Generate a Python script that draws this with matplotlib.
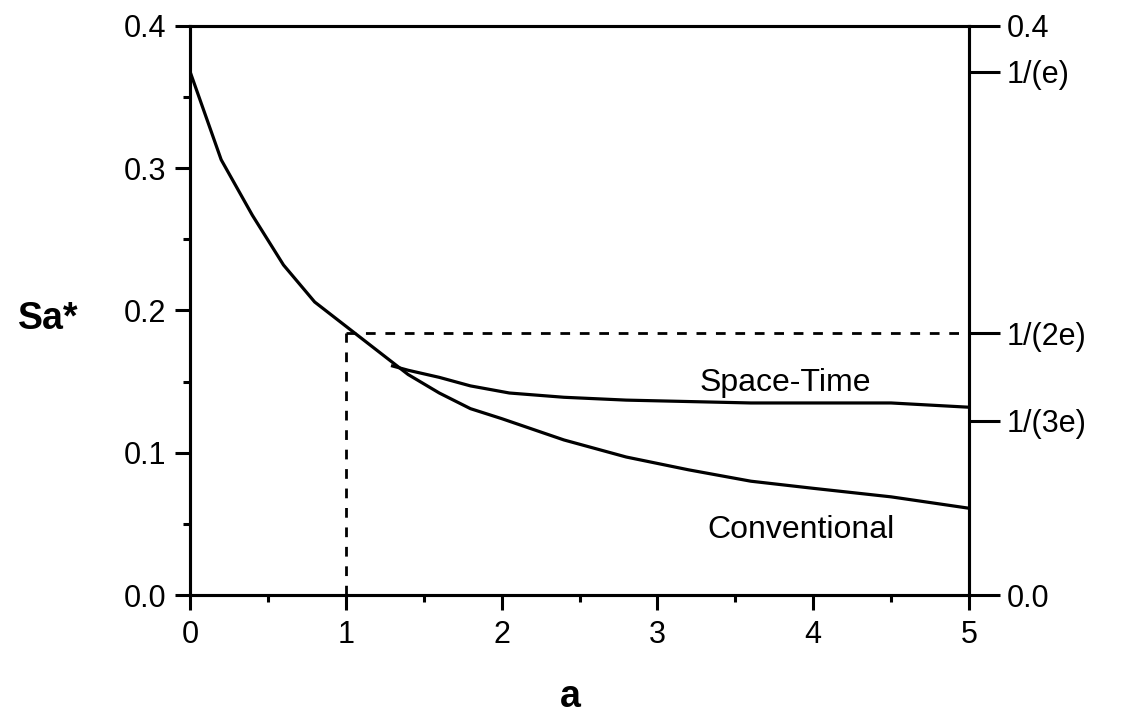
import numpy as np
import matplotlib.pyplot as plt
from matplotlib.ticker import MultipleLocator

plt.rcParams['font.family'] = ['Liberation Sans', 'DejaVu Sans']

# values
a_conv = [0.0, 0.2, 0.4, 0.6, 0.8, 1.0, 1.2, 1.4, 1.6, 1.8, 2.0, 2.4, 2.8, 3.2, 3.6, 4.0, 4.5, 5.0]
s_conv = [0.368, 0.306, 0.267, 0.232, 0.206, 0.189, 0.172, 0.155, 0.142, 0.131, 0.124, 0.109, 0.097, 0.088, 0.080, 0.075, 0.069, 0.061]

a_st = [1.3, 1.4, 1.6, 1.8, 2.0, 2.05, 2.4, 2.8, 3.2, 3.6, 4.0, 4.5, 5.0]
s_st = [0.161, 0.158, 0.153, 0.147, 0.143, 0.142, 0.139, 0.137, 0.136, 0.135, 0.135, 0.135, 0.132]

e = np.e
right_ticks = [0.4, 1 / e, 1 / (2 * e), 1 / (3 * e), 0.0]
right_labels = ['0.4', '1/(e)', '1/(2e)', '1/(3e)', '0.0']

fig = plt.figure(figsize=(11.21, 7.18), dpi=100)
ax = fig.add_axes([0.1695, 0.1713, 0.6949, 0.7925])

ax.plot(a_conv, s_conv, color='black', lw=2.3)
ax.plot(a_st, s_st, color='black', lw=2.3)

# dashed guide at a = 1, Sa* = 1/(2e)
ax.plot([1, 1], [0, 1 / (2 * e)], color='black', lw=2, ls=(0, (3.5, 3.5)))
ax.plot([1, 5], [1 / (2 * e), 1 / (2 * e)], color='black', lw=2, ls=(0, (3.5, 3.5)))

ax.text(3.82, 0.149, 'Space-Time', fontsize=23, ha='center', va='center')
ax.text(3.92, 0.046, 'Conventional', fontsize=23, ha='center', va='center')

ax.set_xlim(0, 5)
ax.set_ylim(0, 0.4)
ax.set_xticks([0, 1, 2, 3, 4, 5])
ax.set_yticks([0.0, 0.1, 0.2, 0.3, 0.4])
ax.set_yticklabels(['0.0', '0.1', '0.2', '0.3', '0.4'])
ax.xaxis.set_minor_locator(MultipleLocator(0.5))
ax.yaxis.set_minor_locator(MultipleLocator(0.05))
ax.tick_params(which='major', direction='out', length=11, width=2.2, labelsize=22)
ax.tick_params(axis='x', which='major', pad=7)
ax.tick_params(axis='y', which='major', pad=6)
ax.tick_params(which='minor', direction='out', length=5, width=2.2)
ax.tick_params(top=False, right=False, which='both')
for sp in ax.spines.values():
    sp.set_linewidth(2.2)

ax2 = ax.twinx()
ax2.set_ylim(0, 0.4)
ax2.set_yticks(right_ticks)
ax2.set_yticklabels(right_labels)
ax2.tick_params(direction='out', length=22, width=2.2, labelsize=22, pad=5)
for sp in ax2.spines.values():
    sp.set_linewidth(2.2)

fig.text(0.509, 0.015, 'a', fontsize=27, fontweight='bold', ha='center', va='baseline')
fig.text(0.043, 0.556, 'Sa*', fontsize=27, fontweight='bold', ha='center', va='center')

fig.savefig('out.png', dpi=100)
